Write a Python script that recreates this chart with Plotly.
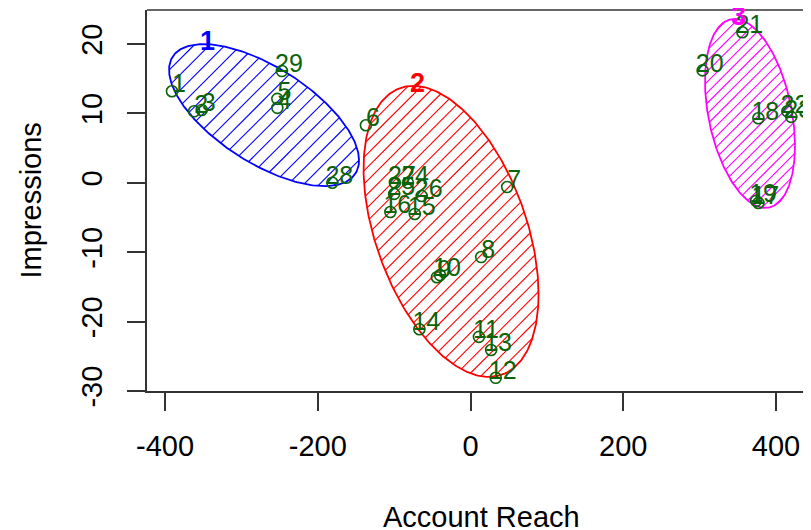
import numpy as np
import plotly.graph_objects as go

# ---------------- data ----------------
point_labels = [str(i) for i in range(1, 30)]
account_reach = [-391, -362, -352, -253, -253, -137, 48, 14, -44, -40,
                 11, 33, 27, -67, -73, -105, 377, 377, 374, 304,
                 356, 415, 420, -82, -100, -64, -99, -181, -247]
impressions = [13.2, 10.3, 10.5, 10.8, 12.1, 8.3, -0.6, -10.7, -13.6, -13.3,
               -22.2, -28.1, -24.1, -21.1, -4.5, -4.2, -2.9, 9.3, -2.6, 16.2,
               21.7, 10.3, 9.5, 0.0, -1.6, -1.9, 0.0, 0.0, 16.1]
cluster_id = [1, 1, 1, 1, 1, 2, 2, 2, 2, 2,
              2, 2, 2, 2, 2, 2, 3, 3, 3, 3,
              3, 3, 3, 2, 2, 2, 2, 1, 1]

cluster_names = ["1", "2", "3"]
cluster_colors = ["#0000FF", "#FF0000", "#FF00FF"]
# ellipse centres and covariance-like shape matrices (data units)
ellipse_cx = [-270.4, -25.5, 366.0]
ellipse_cy = [9.75, -7.0, 10.0]
ellipse_sxx = [15478, 13130, 3473]
ellipse_syy = [104.7, 439.6, 185.4]
ellipse_sxy = [-811, -1038, -273.6]
hatch_spacing_px = [11.0, 9.5, 7.5]

x_ticks = [-400, -200, 0, 200, 400]
y_ticks = [-30, -20, -10, 0, 10, 20]

# ---------------- layout geometry ----------------
BODY = 8                      # default page margin around the plot div
W, H = 811 - BODY, 530 - BODY
ML, MR, MT, MB = 147 - BODY, 0, 10 - BODY, 139
PW, PH = W - ML - MR, H - MT - MB
X_RANGE = [-423.7, 445.9]
Y_RANGE = [-30.0, 24.9]
kx = PW / (X_RANGE[1] - X_RANGE[0])
ky = PH / (Y_RANGE[1] - Y_RANGE[0])

FONT = "Liberation Sans, Arial, Helvetica, sans-serif"
GREEN = "#0a640a"


def shape_matrix(i):
    return np.array([[ellipse_sxx[i], ellipse_sxy[i]],
                     [ellipse_sxy[i], ellipse_syy[i]]])


def ellipse_outline(i, n=300):
    L = np.linalg.cholesky(shape_matrix(i))
    t = np.linspace(0, 2 * np.pi, n)
    p = L @ np.vstack([np.cos(t), np.sin(t)])
    return ellipse_cx[i] + p[0], ellipse_cy[i] + p[1]


def ellipse_hatch(i):
    L = np.linalg.cholesky(shape_matrix(i))
    M = np.diag([kx, ky]) @ L          # pixel-space ellipse (y up)
    Minv = np.linalg.inv(M)
    nrm = np.array([1.0, -1.0]) / np.sqrt(2)
    dirv = np.array([1.0, 1.0]) / np.sqrt(2)
    ext = np.linalg.norm(M.T @ nrm)
    sp = hatch_spacing_px[i]
    xs, ys = [], []
    k0 = int(np.floor(ext / sp))
    for k in range(-k0, k0 + 1):
        p0 = k * sp * nrm
        a = Minv @ p0
        b = Minv @ dirv
        A = b @ b
        B = 2 * a @ b
        C = a @ a - 1
        disc = B * B - 4 * A * C
        if disc <= 0:
            continue
        for s in ((-B - np.sqrt(disc)) / (2 * A), (-B + np.sqrt(disc)) / (2 * A)):
            P = p0 + s * dirv
            xs.append(float(ellipse_cx[i] + P[0] / kx))
            ys.append(float(ellipse_cy[i] + P[1] / ky))
        xs.append(None)
        ys.append(None)
    return xs, ys


fig = go.Figure()

for i in range(3):
    hx, hy = ellipse_hatch(i)
    fig.add_trace(go.Scatter(x=hx, y=hy, mode="lines", connectgaps=False,
                             line=dict(color=cluster_colors[i], width=1.1),
                             hoverinfo="skip", showlegend=False))
    ex, ey = ellipse_outline(i)
    fig.add_trace(go.Scatter(x=ex, y=ey, mode="lines",
                             line=dict(color=cluster_colors[i], width=1.8),
                             hoverinfo="skip", showlegend=False))

# points
fig.add_trace(go.Scatter(x=account_reach, y=impressions, mode="markers",
                         marker=dict(symbol="circle-open", size=11,
                                     color=GREEN, line=dict(width=1.6, color=GREEN)),
                         showlegend=False))

# point labels (offset up-right of the symbol)
dx_lab = 7 / kx
dy_lab = 5 / ky
fig.add_trace(go.Scatter(x=[v + dx_lab for v in account_reach],
                         y=[v + dy_lab for v in impressions],
                         mode="text", text=point_labels,
                         textposition="middle center",
                         textfont=dict(family=FONT, size=25, color=GREEN),
                         cliponaxis=False, hoverinfo="skip", showlegend=False))

# cluster labels at the top of each ellipse
for i in range(3):
    ty = ellipse_cy[i] + np.sqrt(ellipse_syy[i])
    tx = ellipse_cx[i] + ellipse_sxy[i] / np.sqrt(ellipse_syy[i])
    fig.add_annotation(x=float(tx), y=float(ty), text="<b>" + cluster_names[i] + "</b>",
                       showarrow=False, xshift=4, yshift=3,
                       font=dict(family=FONT, size=27, color=cluster_colors[i]))

# axis titles (positions given in screen pixels of the reference)
fig.add_annotation(xref="paper", yref="paper", x=(481 - BODY - ML) / PW,
                   y=(MT + PH - (517 - BODY)) / PH, text="Account Reach",
                   showarrow=False, xanchor="center", yanchor="middle",
                   font=dict(family=FONT, size=29, color="black"))
fig.add_annotation(xref="paper", yref="paper", x=(30 - BODY - ML) / PW,
                   y=0.5, text="Impressions", textangle=-90,
                   showarrow=False, xanchor="center", yanchor="middle",
                   font=dict(family=FONT, size=29, color="black"))

# top border of the box
fig.add_shape(type="line", xref="paper", yref="paper", x0=0, x1=1, y0=1, y1=1,
              line=dict(color="#333333", width=1.5))

fig.update_layout(
    width=W, height=H,
    margin=dict(l=ML, r=MR, t=MT, b=MB, autoexpand=False),
    paper_bgcolor="white", plot_bgcolor="white",
    showlegend=False,
    xaxis=dict(range=X_RANGE, tickvals=x_ticks, ticktext=[str(v) for v in x_ticks],
               automargin=False,
               showgrid=False, zeroline=False, showline=True, linecolor="#333333",
               linewidth=1.5, ticks="outside", ticklen=18, tickwidth=1.5,
               tickcolor="#333333", ticklabelstandoff=10,
               tickfont=dict(family=FONT, size=29, color="black")),
    yaxis=dict(range=Y_RANGE, tickvals=y_ticks, ticktext=[str(v) for v in y_ticks],
               automargin=False,
               showgrid=False, zeroline=False, showline=True, linecolor="#333333",
               linewidth=1.5, ticks="outside", ticklen=18, tickwidth=1.5,
               tickcolor="#333333", tickangle=-90, ticklabelstandoff=14,
               tickfont=dict(family=FONT, size=29, color="black")),
)

fig.write_html("out.html")
